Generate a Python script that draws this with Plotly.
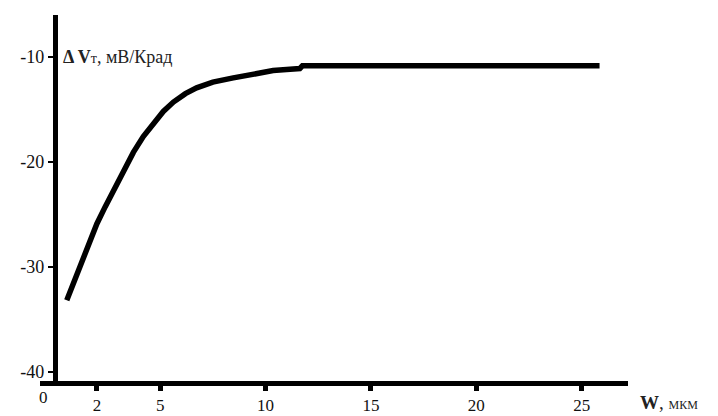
import plotly.graph_objects as go

w_um = [0.57, 1.1, 1.6, 2.0, 2.39, 2.86, 3.3, 3.73, 4.2, 4.68, 5.15, 5.63, 6.2, 6.73, 7.5, 8.47, 9.4, 10.36, 11.0, 11.63, 11.75, 25.85]
dvt = [-33.2, -30.4, -27.8, -25.9, -24.3, -22.4, -20.7, -19.1, -17.6, -16.3, -15.2, -14.3, -13.5, -12.95, -12.4, -12.0, -11.6, -11.3, -11.2, -11.1, -10.85, -10.85]

x_ticks = [2, 5, 10, 15, 20, 25]
y_ticks = [-10, -20, -30, -40]
y_tick_text = ["-10", "-20", "-30", "-40"]

font_serif = "Liberation Serif"

fig = go.Figure()
fig.add_trace(go.Scatter(x=w_um, y=dvt, mode="lines",
                         line=dict(color="black", width=5.5),
                         hoverinfo="skip", showlegend=False))

# page body has an 8px margin, so the figure is sized 710x408 to fill the 718x416 window
fig.update_layout(
    width=710, height=408,
    margin=dict(l=32, r=90, t=7, b=35, autoexpand=False),
    paper_bgcolor="white", plot_bgcolor="white",
    font=dict(family=font_serif, size=17, color="black"),
    xaxis=dict(range=[-0.7, 27.2], tickvals=x_ticks, ticktext=[str(v) for v in x_ticks],
               showline=True, linewidth=5, linecolor="black",
               ticks="outside", ticklen=5, tickwidth=5, tickcolor="black",
               showgrid=False, zeroline=False, automargin=False,
               tickfont=dict(family=font_serif, size=17, color="#111")),
    yaxis=dict(range=[-40.9, -6.0], tickvals=y_ticks, ticktext=y_tick_text,
               anchor="free", position=(0.7 / 27.9),
               showline=True, linewidth=5, linecolor="black",
               ticks="outside", ticklen=5, tickwidth=2, tickcolor="black",
               showgrid=False, zeroline=False, automargin=False,
               tickfont=dict(family=font_serif, size=18, color="#111")),
)

fig.add_annotation(x=0, y=-40.9, xref="x", yref="y", text="0", showarrow=False,
                   xanchor="right", yanchor="top", xshift=-5, yshift=-5,
                   font=dict(family=font_serif, size=17, color="#111"))
fig.add_annotation(x=0.3, y=-10, xref="x", yref="y",
                   text="<b>Δ V</b><span style='font-size:14px'>т</span>, мВ/Крад",
                   showarrow=False, xanchor="left", yanchor="middle",
                   font=dict(family=font_serif, size=18, color="#222"))
fig.add_annotation(x=1.0, y=0, xref="paper", yref="paper",
                   text="<b>W</b>, <span style='font-size:12px'>МКМ</span>",
                   showarrow=False, xanchor="left", yanchor="top", xshift=10, yshift=-9,
                   font=dict(family=font_serif, size=19, color="#222"))

fig.write_html("out.html")
